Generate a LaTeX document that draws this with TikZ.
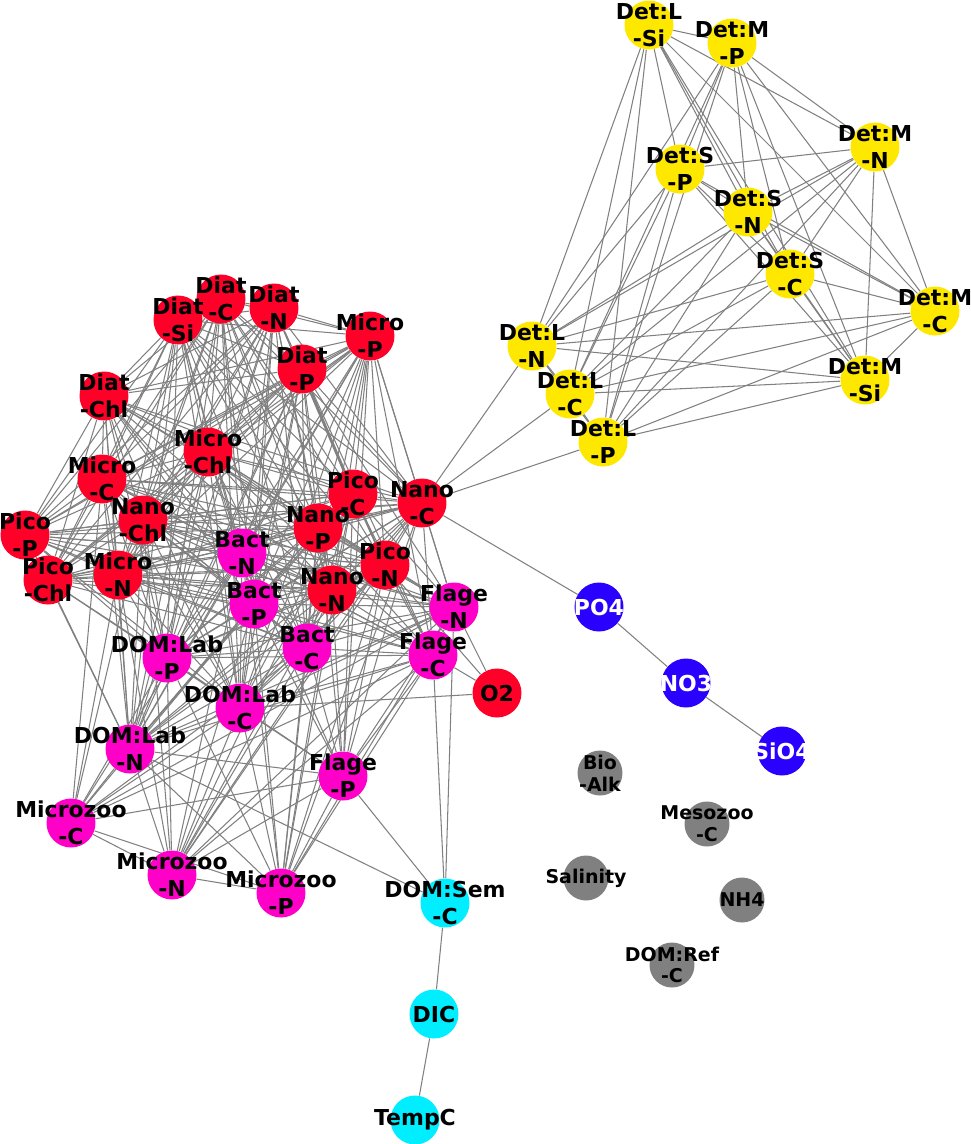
\documentclass[tikz,border=0pt]{standalone}
\usepackage{fontspec}
\setmainfont{DejaVu Sans}
\usetikzlibrary{backgrounds}

\definecolor{phycol}{RGB}{255,0,41}
\definecolor{hetcol}{RGB}{255,0,200}
\definecolor{detcol}{RGB}{255,232,0}
\definecolor{carcol}{RGB}{0,238,255}
\definecolor{nutcol}{RGB}{42,0,255}
\definecolor{envcol}{RGB}{128,128,128}

\tikzset{
  vtx/.style={circle, minimum size=0.98cm, inner sep=0pt},
  phy/.style={vtx, fill=phycol},
  het/.style={vtx, fill=hetcol},
  det/.style={vtx, fill=detcol},
  car/.style={vtx, fill=carcol},
  nut/.style={vtx, fill=nutcol},
  env/.style={vtx, fill=envcol, minimum size=0.9cm},
  lbl/.style={inner sep=0pt, align=center, font=\bfseries\fontsize{12.5}{15.5}\selectfont},
  phy-txt/.style={}, het-txt/.style={}, det-txt/.style={}, car-txt/.style={},
  nut-txt/.style={text=white},
  env-txt/.style={font=\bfseries\fontsize{10.8}{12.3}\selectfont},
  link/.style={draw=black!50, line width=0.6pt}
}

% name/x/y/group/text (pixel coordinates)
\def\nodelist{%
 dLSi/649/25/det/{Det:L\\-Si}, dMP/732/43/det/{Det:M\\-P},
 dMN/875/147/det/{Det:M\\-N}, dSP/680/169/det/{Det:S\\-P},
 dSN/748/212/det/{Det:S\\-N}, dSC/790/274/det/{Det:S\\-C},
 dMC/935/311/det/{Det:M\\-C}, dLN/532/346/det/{Det:L\\-N},
 dMSi/865/380/det/{Det:M\\-Si}, dLC/570/394/det/{Det:L\\-C},
 dLP/603/442/det/{Det:L\\-P},
 dC/221/299/phy/{Diat\\-C}, dSi/178/320/phy/{Diat\\-Si},
 dN/274/308/phy/{Diat\\-N}, mP/370/336/phy/{Micro\\-P},
 dP/302/369/phy/{Diat\\-P}, dChl/104/396/phy/{Diat\\-Chl},
 mChl/208/452/phy/{Micro\\-Chl}, mC/102/479/phy/{Micro\\-C},
 pC/353/494/phy/{Pico\\-C}, nC/422/503/phy/{Nano\\-C},
 nChl/143/520/phy/{Nano\\-Chl}, pP/25/535/phy/{Pico\\-P},
 nP/318/528/phy/{Nano\\-P}, pN/385/565/phy/{Pico\\-N},
 mN/118/575/phy/{Micro\\-N}, pChl/48/580/phy/{Pico\\-Chl},
 nN/332/590/phy/{Nano\\-N}, O2/497/693/phy/{O2},
 bN/242/553/het/{Bact\\-N}, bP/254/604/het/{Bact\\-P},
 fN/454/607/het/{Flage\\-N}, lP/167/658/het/{DOM:Lab\\-P},
 bC/307/648/het/{Bact\\-C}, fC/433/655/het/{Flage\\-C},
 lC/240/708/het/{DOM:Lab\\-C}, lN/130/749/het/{DOM:Lab\\-N},
 fP/343/776/het/{Flage\\-P}, zC/71/823/het/{Microzoo\\-C},
 zN/172/875/het/{Microzoo\\-N}, zP/281/893/het/{Microzoo\\-P},
 sC/445/903/car/{DOM:Sem\\-C}, DIC/434/1014/car/{DIC},
 TempC/415/1120/car/{TempC},
 PO4/599/607/nut/{PO4}, NO3/686/683/nut/{NO3}, SiO4/782/751/nut/{SiO4},
 BioAlk/600/773/env/{Bio\\-Alk}, zMC/707/824/env/{Mesozoo\\-C},
 Sal/586/878/env/{Salinity}, NH4/742/900/env/{NH4},
 rC/672/965/env/{DOM:Ref\\-C}}

\def\detlist{dLSi,dMP,dMN,dSP,dSN,dSC,dMC,dLN,dMSi,dLC,dLP}
\def\phylist{dSi,dC,dN,mP,dP,dChl,mChl,mC,pC,nC,nChl,pP,nP,pN,mN,pChl,nN}
\def\hetlist{bN,bP,bC,fN,fC,fP,lP,lC,lN,zC,zN,zP}

\begin{document}
\begin{tikzpicture}[x=0.02cm, y=-0.02cm]
\useasboundingbox (0,0) rectangle (971,1144);

% circles
\foreach \n/\x/\y/\g/\t in \nodelist
  \node[\g] (\n) at (\x,\y) {};

\begin{scope}[on background layer]
% complete groups
\foreach \a [count=\i] in \detlist {
  \foreach \b [count=\j] in \detlist {
    \ifnum\j>\i \draw[link] (\a) -- (\b);\fi
  }
}
\foreach \a [count=\i] in \phylist {
  \foreach \b [count=\j] in \phylist {
    \ifnum\j>\i \draw[link] (\a) -- (\b);\fi
  }
}
\foreach \a [count=\i] in \hetlist {
  \foreach \b [count=\j] in \hetlist {
    \ifnum\j>\i \draw[link] (\a) -- (\b);\fi
  }
}
% heterotrophs to phytoplankton
\foreach \a in {bN,bP,bC,lP,lC,lN}
  \foreach \b in \phylist {\draw[link] (\a) -- (\b);}
\foreach \a in {fN,fC}
  \foreach \b in {nC,pC,nP,pN,nN,mP,dP,mChl,nChl,mN,mC} {\draw[link] (\a) -- (\b);}
\foreach \b in {nC,pC,nP,pN,nN,mP} {\draw[link] (fP) -- (\b);}
\foreach \b in {mN,nN,pN,nC,pC,nChl} {\draw[link] (zN) -- (\b);}
\foreach \b in {nN,pN,nC,nP,pC} {\draw[link] (zP) -- (\b);}
\foreach \b in {mN,nChl,mC} {\draw[link] (zC) -- (\b);}
% the rest
\foreach \b in {fC,fN,lC,pN} {\draw[link] (O2) -- (\b);}
\foreach \b in {DIC,fC,fN,fP,lN} {\draw[link] (sC) -- (\b);}
\foreach \b in {PO4,dLN,dLC,dLP} {\draw[link] (nC) -- (\b);}
\draw[link] (DIC) -- (TempC);
\draw[link] (PO4) -- (NO3) -- (SiO4);
\end{scope}

% labels on top
\foreach \n/\x/\y/\g/\t in \nodelist
  \node[lbl, \g-txt] (\n-t) at (\n) {\t};

\end{tikzpicture}
\end{document}
